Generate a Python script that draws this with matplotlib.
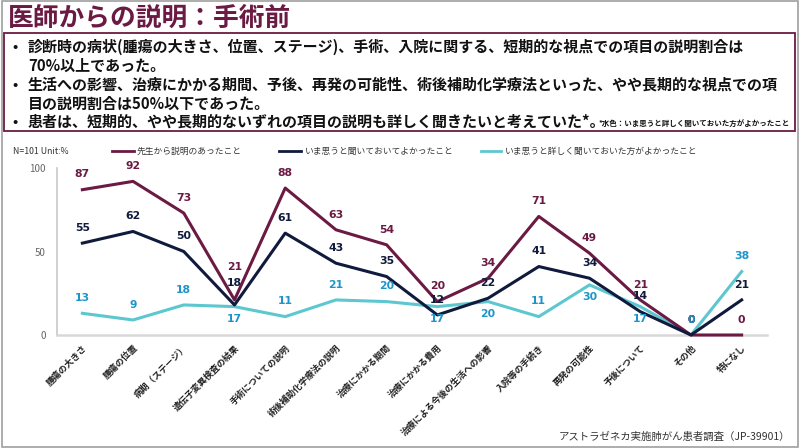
import matplotlib
matplotlib.use("Agg")
import matplotlib.pyplot as plt
from matplotlib.patches import Rectangle
from matplotlib.lines import Line2D

plt.rcParams['font.family'] = ['Noto Sans CJK JP', 'DejaVu Sans']

# データ
categories = ['腫瘍の大きさ', '腫瘍の位置', '病期（ステージ）', '遺伝子変異検査の結果',
              '手術についての説明', '術後補助化学療法の説明', '治療にかかる期間',
              '治療にかかる費用', '治療による今後の生活への影響', '入院等の手続き',
              '再発の可能性', '予後について', 'その他', '特になし']
explained = [87, 92, 73, 21, 88, 63, 54, 20, 34, 71, 49, 21, 0, 0]
glad_heard = [55, 62, 50, 18, 61, 43, 35, 12, 22, 41, 34, 14, 0, 21]
want_detail = [13, 9, 18, 17, 11, 21, 20, 17, 20, 11, 30, 17, 0, 38]
series_names = ['先生から説明のあったこと', 'いま思うと聞いておいてよかったこと',
                'いま思うと詳しく聞いておいた方がよかったこと']
yticks = [0, 50, 100]

W, H = 800, 448
def fx(px):
    return px / W
def fy(py):
    return 1 - py / H

maroon = '#6b1a43'
navy = '#101a3c'
cyan = '#5dc7d0'
cyan_txt = '#1e95c9'

fig = plt.figure(figsize=(8, 4.48), dpi=100)

# 外枠
fig.add_artist(Rectangle((0.002, 0.003), 0.995, 0.994, transform=fig.transFigure,
                         fill=False, edgecolor='#a0a0a0', linewidth=1.2))

# タイトル
fig.text(fx(8), fy(18), '医師からの説明：手術前', fontsize=18.5, fontweight='bold',
         color=maroon, va='center', ha='left')

# 要約ボックス
fig.add_artist(Rectangle((fx(4), fy(131)), fx(791), 98 / H, transform=fig.transFigure,
                         fill=False, edgecolor=maroon, linewidth=1.3))
lines = [
    ('•', '診断時の病状(腫瘍の大きさ、位置、ステージ)、手術、入院に関する、短期的な視点での項目の説明割合は', 47),
    ('', '70%以上であった。', 66),
    ('•', '生活への影響、治療にかかる期間、予後、再発の可能性、術後補助化学療法といった、やや長期的な視点での項', 85),
    ('', '目の説明割合は50%以下であった。', 104),
    ('•', '患者は、短期的、やや長期的ないずれの項目の説明も詳しく聞きたいと考えていた*。', 122),
]
for bullet, txt, y in lines:
    if bullet:
        fig.text(fx(12), fy(y), bullet, fontsize=10, fontweight='bold', va='center', color='#111111')
    fig.text(fx(28), fy(y), txt, fontsize=10.8, fontweight='bold', va='center', color='#111111')
fig.text(fx(790), fy(123), '*水色：いま思うと詳しく聞いておいた方がよかったこと', fontsize=5.4,
         fontweight='bold', va='center', ha='right', color='#111111')

# 凡例
fig.text(fx(13), fy(151), 'N=101 Unit:%', fontsize=6.3, va='center', color='#333333')
for (x0, x1, tx), name, col in zip([(112, 134, 137), (279, 301, 305), (481, 501, 505)],
                                   series_names, [maroon, navy, cyan]):
    fig.add_artist(Line2D([fx(x0), fx(x1)], [fy(151), fy(151)], transform=fig.transFigure,
                          color=col, linewidth=2))
    fig.text(fx(tx), fy(151), name, fontsize=6.3, va='center', color='#333333')

# グラフ
ax = fig.add_axes([fx(57), fy(335), fx(767) - fx(57), (335 - 168) / H])
x = list(range(len(categories)))
ax.plot(x, explained, color=maroon, linewidth=2.2, clip_on=False, zorder=3)
ax.plot(x, glad_heard, color=navy, linewidth=2.2, clip_on=False, zorder=3)
ax.plot(x, want_detail, color=cyan, linewidth=2.2, clip_on=False, zorder=2)

ax.set_xlim(-0.5, len(categories) - 0.5)
ax.set_ylim(0, 100)
ax.set_yticks(yticks)
ax.set_yticklabels([str(v) for v in yticks], fontsize=7, color='#666666')
ax.tick_params(axis='y', length=0, pad=8)
ax.tick_params(axis='x', length=0, pad=6)
ax.set_xticks(x)
ax.set_xticklabels(categories, rotation=45, ha='right', va='top', rotation_mode='anchor',
                   fontsize=6.4, fontweight='bold', color='#222222')
for s in ['top', 'right']:
    ax.spines[s].set_visible(False)
ax.spines['left'].set_color('#c8c8c8')
ax.spines['bottom'].set_color('#d8d8d8')
ax.spines['left'].set_linewidth(1.2)
ax.spines['bottom'].set_linewidth(1.8)

# データラベル（水色は一部を線の下に置く）
below_cyan = {3, 7, 8, 10, 11}
for i in x:
    up_m = 24 if i == 3 else 11
    up_n = 16 if i == 3 else 11
    ax.annotate(str(explained[i]), (i, explained[i]), xytext=(0, up_m), textcoords='offset points',
                ha='center', va='center', fontsize=7.8, fontweight='bold', color=maroon,
                family='DejaVu Sans')
    ax.annotate(str(glad_heard[i]), (i, glad_heard[i]), xytext=(0, up_n), textcoords='offset points',
                ha='center', va='center', fontsize=7.8, fontweight='bold', color=navy,
                family='DejaVu Sans')
    dy = -9 if i in below_cyan else 11
    ax.annotate(str(want_detail[i]), (i, want_detail[i]), xytext=(0, dy), textcoords='offset points',
                ha='center', va='center', fontsize=7.8, fontweight='bold', color=cyan_txt,
                family='DejaVu Sans')

# 出典
fig.text(fx(790), fy(437), 'アストラゼネカ実施肺がん患者調査（JP-39901）', fontsize=7.5,
         ha='right', va='center', color='#333333')

fig.savefig('out.png', dpi=100)
